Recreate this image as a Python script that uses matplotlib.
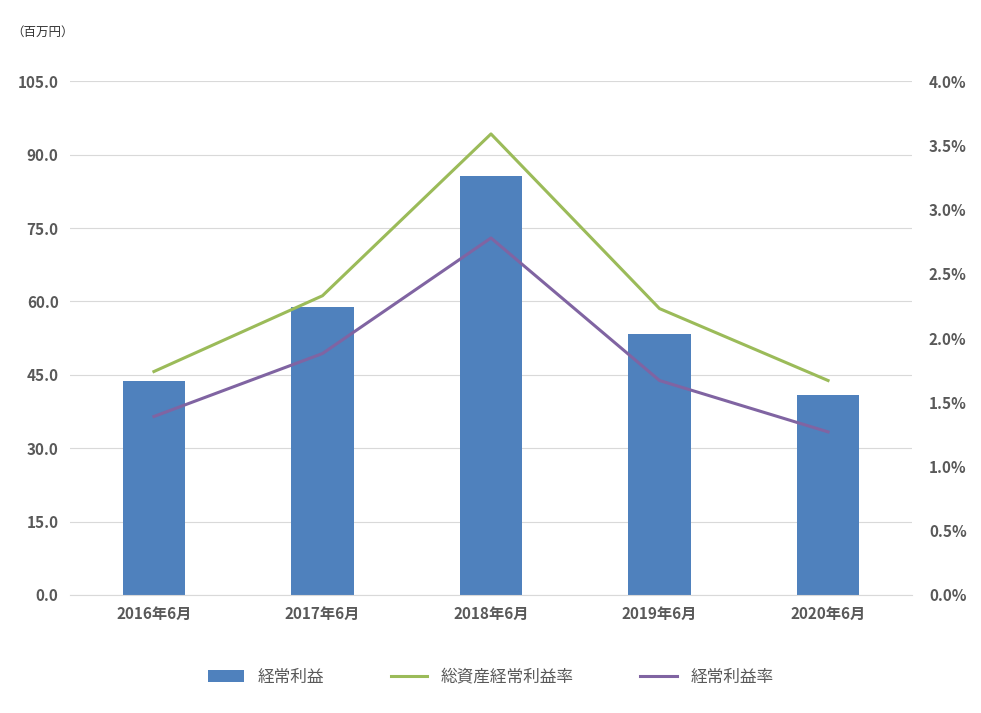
import matplotlib
matplotlib.use("Agg")
import matplotlib.pyplot as plt
import numpy as np

plt.rcParams["font.family"] = "Noto Sans CJK JP"

categories = ["2016年6月", "2017年6月", "2018年6月", "2019年6月", "2020年6月"]
profit = [43.7, 58.8, 85.6, 53.3, 40.9]
roa = [1.74, 2.33, 3.59, 2.23, 1.67]
margin = [1.39, 1.88, 2.78, 1.67, 1.27]
left_ticks = [0, 15, 30, 45, 60, 75, 90, 105]
right_ticks = [0, 0.5, 1.0, 1.5, 2.0, 2.5, 3.0, 3.5, 4.0]

gray = "#595959"
fig = plt.figure(figsize=(9.81, 7.13), dpi=100)
ax = fig.add_axes([0.071, 0.1655, 0.859, 0.7205])
x = np.arange(len(categories))
b = ax.bar(x, profit, width=0.37, color="#4F81BD", label="経常利益", zorder=2)
ax.set_ylim(0, 105)
ax.set_yticks(left_ticks)
ax.set_yticklabels([f"{v:.1f}" for v in left_ticks], fontsize=11, fontweight="bold", color=gray)
ax.set_xlim(-0.5, len(categories) - 0.5)
ax.set_xticks(x)
ax.set_xticklabels(categories, fontsize=11, fontweight="bold", color=gray)
ax.grid(axis="y", color="#D9D9D9", lw=0.8, zorder=0)
for s in ["top", "right", "left"]:
    ax.spines[s].set_visible(False)
ax.spines["bottom"].set_color("#D9D9D9")
ax.tick_params(length=0, pad=8)

ax2 = ax.twinx()
l1, = ax2.plot(x, roa, color="#9BBB59", lw=2.2, label="総資産経常利益率")
l2, = ax2.plot(x, margin, color="#8064A2", lw=2.2, label="経常利益率")
ax2.set_ylim(0, 4.0)
ax2.set_yticks(right_ticks)
ax2.set_yticklabels([f"{v:.1f}%" for v in right_ticks], fontsize=11, fontweight="bold", color=gray)
for s in ax2.spines.values():
    s.set_visible(False)
ax2.tick_params(length=0, pad=12)

fig.text(0.012, 0.955, "（百万円）", fontsize=9, color="#333333", va="center")
fig.legend([b, l1, l2], ["経常利益", "総資産経常利益率", "経常利益率"], loc="center",
           bbox_to_anchor=(0.5, 0.05), ncol=3, frameon=False, fontsize=12,
           handlelength=2.2, columnspacing=4, labelcolor=gray)
fig.savefig("out.png", dpi=100)
